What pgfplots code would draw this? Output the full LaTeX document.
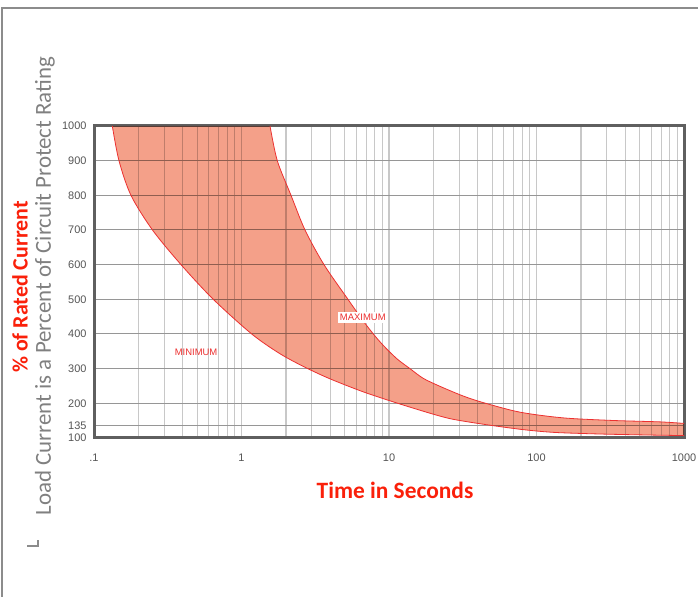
\documentclass[border=0pt]{standalone}
\usepackage{fontspec}
\setmainfont{Carlito}
\newfontfamily\arialf{Liberation Sans}
\usepackage{pgfplots}
\usepackage{pgfplotstable}
\pgfplotsset{compat=1.18}
\usepgfplotslibrary{fillbetween}
\definecolor{band}{RGB}{244,160,137}
\definecolor{curvered}{RGB}{236,48,48}
\definecolor{titlered}{RGB}{250,32,10}
\definecolor{labgray}{RGB}{128,128,128}
\definecolor{framegray}{RGB}{95,95,95}
\definecolor{tickgray}{RGB}{85,85,85}
\definecolor{hgrid}{RGB}{150,150,150}
\definecolor{vgrid}{RGB}{200,200,200}
\definecolor{bordergray}{RGB}{140,140,140}

\pgfplotstableread{
t v
0.1331 1000
0.1477 900
0.1781 800
0.2492 700
0.389 600
0.6437 500
1.173 400
1.824 343
2.695 304
3.98 270.7
6.70 233
11.28 201
18.97 171.4
25.9 155.8
35.4 145.6
54.0 134
83.6 123.5
133.5 116
269.5 111.5
588 108.5
1000 107
}\mintable

\pgfplotstableread{
t v
1.561 1000
1.748 900
2.166 800
2.695 700
3.625 600
5.27 500
6.56 442.5
7.83 400
9.15 367
11.28 329
13.88 300
17.08 272
22.17 249
31.89 221
43.6 202
77.3 174.5
152 158
331.6 150.5
687.6 146.5
1000 142
}\maxtable

\begin{document}
\begin{tikzpicture}[x=1bp,y=1bp]
\draw[bordergray, line width=2bp] (2,0) -- (2,589) -- (698,589);
\draw[bordergray, line width=1.2bp] (27,51) -- (38,51) -- (38,57);
\begin{axis}[
  at={(94bp,159bp)}, anchor=south west,
  width=590bp, height=312bp, scale only axis,
  xmode=log, xmin=0.1, xmax=1000, ymin=100, ymax=1000,
  xtick={0.1,1,10,100,1000},
  xticklabels={.1,1,10,100,1000},
  minor xtick={0.2,0.3,0.4,0.5,0.6,0.7,0.8,0.9,2,3,4,5,6,7,8,9,20,30,40,50,60,70,80,90,200,300,400,500,600,700,800,900},
  ytick={100,135,200,300,400,500,600,700,800,900,1000},
  yticklabels={100,135,200,300,400,500,600,700,800,900,1000},
  /pgf/number format/assume math mode=true,
  xmajorgrids, xminorgrids, ymajorgrids,
  major x grid style={vgrid, line width=1.2bp},
  minor x grid style={vgrid, line width=1.2bp},
  major y grid style={hgrid, line width=1bp},
  major tick length=0, minor tick length=0,
  axis line style={framegray, line width=3bp},
  ticklabel style={font=\arialf\fontsize{11}{11}\selectfont, text=tickgray},
  yticklabel style={xshift=-4bp},
  xticklabel style={yshift=-12bp},
  clip=true,
]
\addplot[name path=minc, draw=none, smooth] table[x=t,y=v] {\mintable};
\addplot[name path=maxc, draw=none, smooth] table[x=t,y=v] {\maxtable};
\addplot[band, blend mode=multiply] fill between[of=minc and maxc];
\addplot[curvered, line width=0.8bp, smooth] table[x=t,y=v] {\mintable};
\addplot[curvered, line width=0.8bp, smooth] table[x=t,y=v] {\maxtable};
\node[text=curvered, font=\arialf\fontsize{9.5}{9.5}\selectfont] at (axis cs:0.492,346) {MINIMUM};
\node[text=curvered, fill=white, inner sep=2bp, font=\arialf\fontsize{9.5}{9.5}\selectfont] at (axis cs:6.64,448) {MAXIMUM};
\end{axis}
\node[text=titlered, font=\bfseries\fontsize{23.5}{23.5}\selectfont] at (395,107) {Time in Seconds};
\node[rotate=90, text=titlered, font=\bfseries\fontsize{22}{22}\selectfont] at (20,310) {\% of Rated Current};
\node[rotate=90, text=labgray, font=\fontsize{23}{23}\selectfont] at (45,311) {Load Current is a Percent of Circuit Protect Rating};
\pgfresetboundingbox
\useasboundingbox (0,0) rectangle (698,597);
\end{tikzpicture}
\end{document}
